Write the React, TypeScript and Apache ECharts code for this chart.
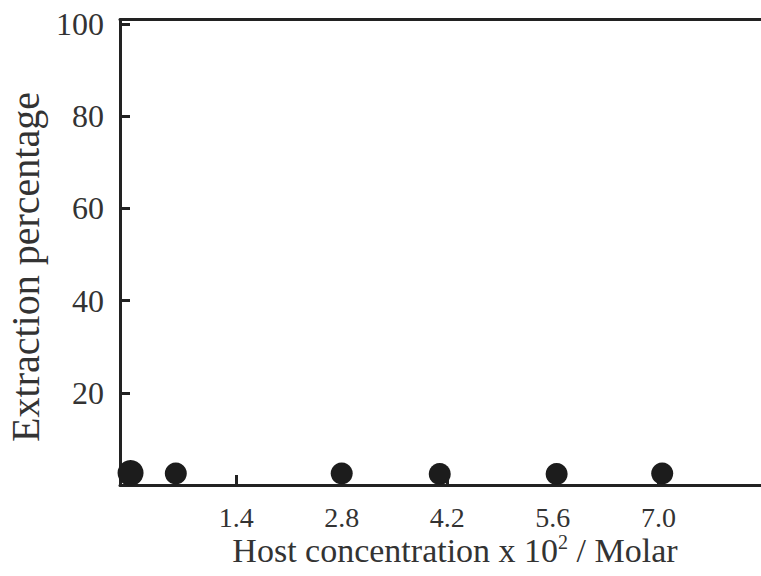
import React, { useEffect, useRef } from "react";
import * as echarts from "echarts";

const hostConc = [0, 0.6, 2.8, 4.1, 5.65, 7.05];
const extraction = [2.6, 2.5, 2.5, 2.4, 2.4, 2.5];
const xTickValues = [1.4, 2.8, 4.2, 5.6, 7.0];
const yTickValues = [20, 40, 60, 80, 100];

const FONT = "Liberation Serif";
const INK = "#222";
const TEXT = "#333";

export default function App() {
  const ref = useRef<HTMLDivElement>(null);
  useEffect(() => {
    if (!ref.current) return;
    const chart = echarts.init(ref.current, null, { renderer: "svg" });
    chart.setOption({
      animation: false,
      backgroundColor: "#fff",
      grid: {
        left: 120,
        top: 19.5,
        right: 0,
        bottom: 91,
        show: false,
      },
      xAxis: [
        {
          type: "value",
          min: -0.14,
          max: 8.36,
          splitLine: { show: false },
          axisLine: { show: true, onZero: false, lineStyle: { color: INK, width: 3 } },
          axisTick: {
            show: true,
            inside: true,
            length: 10,
            customValues: xTickValues,
            lineStyle: { color: INK, width: 3 },
          },
          axisLabel: {
            customValues: xTickValues,
            formatter: (v: number) => v.toFixed(1),
            fontFamily: FONT,
            fontSize: 28,
            lineHeight: 24,
            color: TEXT,
            margin: 20,
          },
        },
        {
          type: "value",
          position: "top",
          min: -0.14,
          max: 8.36,
          splitLine: { show: false },
          axisLine: { show: true, onZero: false, lineStyle: { color: INK, width: 3 } },
          axisTick: { show: false },
          axisLabel: { show: false },
        },
      ],
      yAxis: {
        type: "value",
        min: 0,
        max: 101,
        splitLine: { show: false },
        axisLine: { show: true, onZero: false, lineStyle: { color: INK, width: 3 } },
        axisTick: {
          show: true,
          inside: true,
          length: 10,
          customValues: yTickValues,
          lineStyle: { color: INK, width: 3 },
        },
        axisLabel: {
          customValues: yTickValues,
          formatter: (v: number) => String(v),
          fontFamily: FONT,
          fontSize: 32,
          color: TEXT,
          margin: 16,
        },
      },
      graphic: [
        {
          type: "text",
          x: 25,
          y: 267,
          rotation: Math.PI / 2,
          style: {
            text: "Extraction percentage",
            fontFamily: FONT,
            fontSize: 40,
            lineHeight: 36,
            fill: TEXT,
            align: "center",
            verticalAlign: "middle",
          },
        },
        {
          type: "text",
          x: 455,
          y: 550,
          style: {
            text: "Host concentration x 10{sup|2} / Molar",
            fontFamily: FONT,
            fontSize: 34,
            lineHeight: 30,
            fill: TEXT,
            align: "center",
            verticalAlign: "middle",
            rich: {
              sup: {
                fontFamily: FONT,
                fontSize: 20,
                lineHeight: 20,
                fill: TEXT,
                padding: [0, 0, 16, 0],
              },
            },
          },
        },
      ],
      series: [
        {
          type: "scatter",
          xAxisIndex: 0,
          data: hostConc.map((x, i) => [x, extraction[i]]),
          symbol: "circle",
          symbolSize: (_v: number[], p: { dataIndex: number }) =>
            p.dataIndex === 0 ? 26 : 22,
          itemStyle: { color: "#1c1c1c", opacity: 1 },
        },
      ],
    });
    return () => chart.dispose();
  }, []);
  return (
    <div
      ref={ref}
      style={{ position: "fixed", left: 0, top: 0, width: 761, height: 576 }}
    />
  );
}
